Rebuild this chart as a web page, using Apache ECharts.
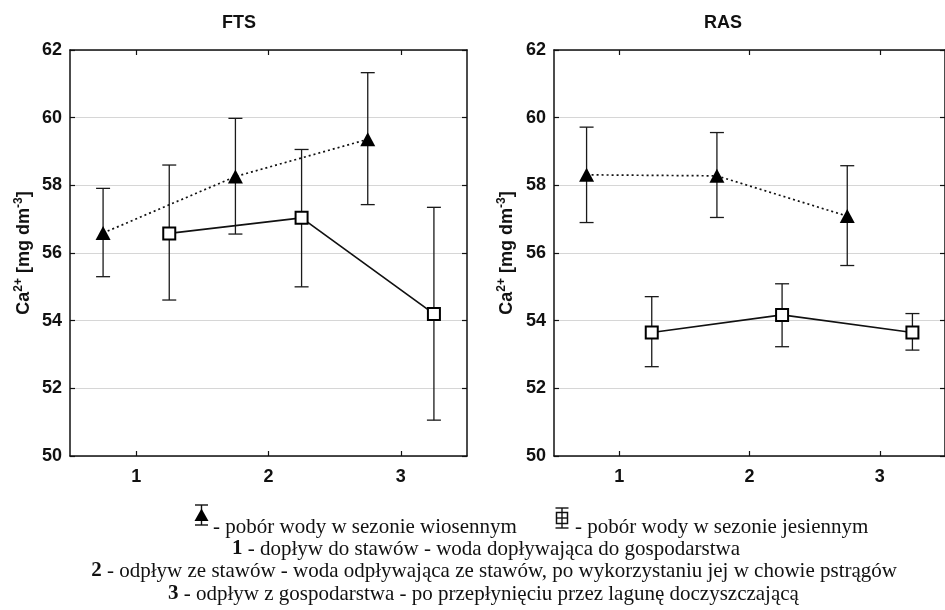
<!DOCTYPE html>
<html>
<head>
<meta charset="utf-8">
<script src="https://cdn.jsdelivr.net/npm/echarts@6/dist/echarts.min.js"></script>
<style>
html,body{margin:0;padding:0;background:#fff;}
#chart{width:945px;height:610px;}
</style>
</head>
<body>
<div id="chart"></div>
<script>
// ---- data ----
var panelTitles = ['FTS', 'RAS'];
var stations = [1, 2, 3];
var yTicks = [50, 52, 54, 56, 58, 60, 62];

var ftsSpringMean = [56.59, 58.26, 59.36];
var ftsSpringLow  = [55.30, 56.56, 57.43];
var ftsSpringHigh = [57.91, 59.98, 61.33];

var ftsAutumnMean = [56.58, 57.04, 54.20];
var ftsAutumnLow  = [54.61, 55.00, 51.06];
var ftsAutumnHigh = [58.60, 59.06, 57.35];

var rasSpringMean = [58.31, 58.28, 57.09];
var rasSpringLow  = [56.90, 57.05, 55.63];
var rasSpringHigh = [59.72, 59.56, 58.58];

var rasAutumnMean = [53.65, 54.17, 53.65];
var rasAutumnLow  = [52.64, 53.23, 53.13];
var rasAutumnHigh = [54.71, 55.09, 54.21];

var seriesNames = ['pobór wody w sezonie wiosennym', 'pobór wody w sezonie jesiennym'];
var legendLines = [
  ['1', ' - dopływ do stawów - woda dopływająca do gospodarstwa'],
  ['2', ' - odpływ ze stawów - woda odpływająca ze stawów, po wykorzystaniu jej w chowie pstrągów'],
  ['3', ' - odpływ z gospodarstwa - po przepłynięciu przez lagunę doczyszczającą']
];

// ---- build ----
var SANS = '"Liberation Sans", Arial, Helvetica, sans-serif';
var SERIF = '"Liberation Serif", "Times New Roman", serif';
var SHIFT = 0.25;

function pts(means, off) {
  return means.map(function (m, i) { return [stations[i] + off, m]; });
}
function bars(lows, highs, off) {
  return lows.map(function (l, i) { return [stations[i] + off, l, highs[i]]; });
}

function errRender(params, api) {
  var x = api.value(0);
  var lo = api.coord([x, api.value(1)]);
  var hi = api.coord([x, api.value(2)]);
  var hw = 7;
  var st = { stroke: '#1a1a1a', lineWidth: 1.3 };
  return {
    type: 'group',
    children: [
      { type: 'line', shape: { x1: lo[0], y1: lo[1], x2: hi[0], y2: hi[1] }, style: st },
      { type: 'line', shape: { x1: lo[0] - hw, y1: lo[1], x2: lo[0] + hw, y2: lo[1] }, style: st },
      { type: 'line', shape: { x1: hi[0] - hw, y1: hi[1], x2: hi[0] + hw, y2: hi[1] }, style: st }
    ]
  };
}

var grids = [
  { left: 70, top: 50, width: 397, height: 406 },
  { left: 554, top: 50, width: 396, height: 406 }
];
var nameGaps = [35, 36];

var xAxes = [], yAxes = [], series = [];
var panels = [
  { sm: ftsSpringMean, sl: ftsSpringLow, sh: ftsSpringHigh, am: ftsAutumnMean, al: ftsAutumnLow, ah: ftsAutumnHigh },
  { sm: rasSpringMean, sl: rasSpringLow, sh: rasSpringHigh, am: rasAutumnMean, al: rasAutumnLow, ah: rasAutumnHigh }
];

var axisLineStyle = { color: '#111', width: 1.5 };
var tickStyle = { color: '#111', width: 1.2 };

panels.forEach(function (p, g) {
  xAxes.push({
    type: 'value', gridIndex: g, position: 'bottom', min: 0.5, max: 3.5, interval: 0.5,
    axisLine: { show: true, onZero: false, lineStyle: axisLineStyle },
    axisTick: { show: true, inside: true, length: 5, customValues: stations, lineStyle: tickStyle },
    axisLabel: { show: true, customValues: stations, margin: 12, fontFamily: SANS, fontWeight: 'bold', fontSize: 18, color: '#111' },
    splitLine: { show: false }
  });
  xAxes.push({
    type: 'value', gridIndex: g, position: 'top', min: 0.5, max: 3.5, interval: 0.5,
    axisLine: { show: true, onZero: false, lineStyle: axisLineStyle },
    axisTick: { show: true, inside: true, length: 5, customValues: stations, lineStyle: tickStyle },
    axisLabel: { show: false },
    splitLine: { show: false }
  });
  yAxes.push({
    type: 'value', gridIndex: g, position: 'left', min: 50, max: 62, interval: 2,
    name: '{b|Ca}{s|2+}{b| [mg dm}{s|-3}{b|]}',
    nameLocation: 'middle', nameGap: nameGaps[g], nameRotate: 90,
    nameTextStyle: {
      rich: {
        b: { fontFamily: SANS, fontWeight: 'bold', fontSize: 18, color: '#111', lineHeight: 22 },
        s: { fontFamily: SANS, fontWeight: 'bold', fontSize: 12, color: '#111', lineHeight: 13, verticalAlign: 'top' }
      }
    },
    axisLine: { show: true, onZero: false, lineStyle: axisLineStyle },
    axisTick: { show: true, inside: true, length: 5, lineStyle: tickStyle },
    axisLabel: { show: true, margin: 8, fontFamily: SANS, fontWeight: 'bold', fontSize: 18, color: '#111' },
    splitLine: { show: true, lineStyle: { color: '#d6d6d6', width: 1 } }
  });
  yAxes.push({
    type: 'value', gridIndex: g, position: 'right', min: 50, max: 62, interval: 2,
    axisLine: { show: true, onZero: false, lineStyle: axisLineStyle },
    axisTick: { show: true, inside: true, length: 5, lineStyle: tickStyle },
    axisLabel: { show: false },
    splitLine: { show: false }
  });

  var xi = g * 2, yi = g * 2;
  series.push({
    type: 'custom', xAxisIndex: xi, yAxisIndex: yi, renderItem: errRender, z: 1,
    encode: { x: 0, y: [1, 2] }, data: bars(p.sl, p.sh, -SHIFT), silent: true
  });
  series.push({
    type: 'custom', xAxisIndex: xi, yAxisIndex: yi, renderItem: errRender, z: 1,
    encode: { x: 0, y: [1, 2] }, data: bars(p.al, p.ah, SHIFT), silent: true
  });
  series.push({
    name: seriesNames[0], type: 'line', xAxisIndex: xi, yAxisIndex: yi, z: 3,
    data: pts(p.sm, -SHIFT), symbol: 'triangle', symbolSize: [15, 14],
    itemStyle: { color: '#000' },
    lineStyle: { color: '#111', width: 1.7, type: [2, 3] }
  });
  series.push({
    name: seriesNames[1], type: 'line', xAxisIndex: xi, yAxisIndex: yi, z: 3,
    data: pts(p.am, SHIFT), symbol: 'rect', symbolSize: 12, showAllSymbol: true,
    itemStyle: { color: '#fff', borderColor: '#000', borderWidth: 2 },
    lineStyle: { color: '#111', width: 1.7, type: 'solid' }
  });
});

var graphics = [];
var titleX = [239, 723];
panelTitles.forEach(function (t, i) {
  graphics.push({ type: 'text', x: titleX[i], y: 23, style: { text: t, font: 'bold 18px ' + SANS, fill: '#111', textAlign: 'center', textVerticalAlign: 'middle' } });
});

var ln = { stroke: '#111', lineWidth: 1.4 };
graphics.push({ type: 'group', children: [
  { type: 'line', shape: { x1: 195, y1: 505, x2: 208, y2: 505 }, style: ln },
  { type: 'line', shape: { x1: 201.5, y1: 505, x2: 201.5, y2: 525 }, style: ln },
  { type: 'line', shape: { x1: 195, y1: 525, x2: 208, y2: 525 }, style: ln },
  { type: 'polygon', shape: { points: [[201.5, 508.5], [208.5, 521], [194.5, 521]] }, style: { fill: '#000' } }
]});
graphics.push({ type: 'group', children: [
  { type: 'line', shape: { x1: 555.5, y1: 508, x2: 568.5, y2: 508 }, style: ln },
  { type: 'line', shape: { x1: 562, y1: 508, x2: 562, y2: 528 }, style: ln },
  { type: 'line', shape: { x1: 555.5, y1: 528, x2: 568.5, y2: 528 }, style: ln },
  { type: 'rect', shape: { x: 556.5, y: 512.5, width: 11, height: 11 }, style: { fill: 'none', stroke: '#111', lineWidth: 1.5 } },
  { type: 'line', shape: { x1: 556.5, y1: 518, x2: 567.5, y2: 518 }, style: ln }
]});
graphics.push({ type: 'text', x: 213, y: 527, style: { text: '- ' + seriesNames[0], font: '21px ' + SERIF, fill: '#111', textVerticalAlign: 'middle' } });
graphics.push({ type: 'text', x: 575, y: 527, style: { text: '- ' + seriesNames[1], font: '21px ' + SERIF, fill: '#111', textVerticalAlign: 'middle' } });

var noteY = [549, 571, 594];
var noteX = [232, 897, 168];
var noteAlign = ['left', 'right', 'left'];
legendLines.forEach(function (l, i) {
  graphics.push({ type: 'text', x: noteX[i], y: noteY[i], style: {
    text: '{n|' + l[0] + '}{t|' + l[1] + '}',
    textAlign: noteAlign[i], textVerticalAlign: 'middle',
    rich: {
      n: { fontFamily: SERIF, fontWeight: 'bold', fontSize: 21, fill: '#111' },
      t: { fontFamily: SERIF, fontSize: 21, fill: '#111' }
    }
  }});
});

var chart = echarts.init(document.getElementById('chart'), null, { renderer: 'canvas' });
chart.setOption({
  animation: false,
  backgroundColor: '#fff',
  grid: grids,
  xAxis: xAxes,
  yAxis: yAxes,
  series: series,
  graphic: graphics,
  tooltip: { show: false }
});
</script>
</body>
</html>
